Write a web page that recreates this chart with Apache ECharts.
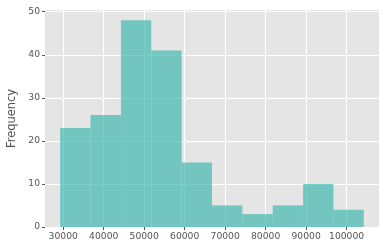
<!DOCTYPE html>
<html><head><meta charset="utf-8">
<script src="https://cdn.jsdelivr.net/npm/echarts@6/dist/echarts.min.js"></script>
<style>html,body{margin:0;padding:0;background:#fff}#c{width:385px;height:251px}</style>
</head><body><div id="c"></div>
<script>
const binEdges = [29250, 36750, 44250, 51750, 59250, 66750, 74250, 81750, 89250, 96750, 104250];
const counts = [23, 26, 48, 41, 15, 5, 3, 5, 10, 4];
const xTicks = [30000, 40000, 50000, 60000, 70000, 80000, 90000, 100000];
const yTicks = [0, 10, 20, 30, 40, 50];

const data = counts.map((c, i) => [binEdges[i], binEdges[i + 1], c]);
const chart = echarts.init(document.getElementById('c'), null, {renderer: 'canvas'});
const font = 'DejaVu Sans';
chart.setOption({
  animation: false,
  backgroundColor: '#fff',
  grid: {left: 45, right: 6, top: 10, bottom: 24, show: true, backgroundColor: '#e5e5e5', borderWidth: 0,
         containLabel: false, outerBoundsMode: 'none'},
  xAxis: {
    type: 'value', min: 25500, max: 108000, interval: 10000,
    axisLine: {show: false},
    axisTick: {show: true, length: 3, lineStyle: {color: '#555'}, customValues: xTicks},
    axisLabel: {color: '#555', fontFamily: font, fontSize: 9.2, margin: 5, customValues: xTicks,
                formatter: v => String(v)},
    splitLine: {show: true, lineStyle: {color: '#fff', width: 1}}
  },
  yAxis: {
    type: 'value', min: 0, max: 50.4,
    name: 'Frequency', nameLocation: 'middle', nameGap: 25,
    nameTextStyle: {color: '#555', fontFamily: font, fontSize: 11.4},
    axisLine: {show: false},
    axisTick: {show: true, length: 3, lineStyle: {color: '#555'}, customValues: yTicks},
    axisLabel: {color: '#555', fontFamily: font, fontSize: 9.2, margin: 5, customValues: yTicks,
                formatter: v => String(v)},
    splitLine: {show: true, lineStyle: {color: '#fff', width: 1}}
  },
  series: [{
    type: 'custom',
    data: data,
    renderItem: function (params, api) {
      const p0 = api.coord([api.value(0), api.value(2)]);
      const p1 = api.coord([api.value(1), 0]);
      return {
        type: 'rect',
        shape: {x: p0[0], y: p0[1], width: p1[0] - p0[0], height: p1[1] - p0[1]},
        style: {fill: 'rgba(65,185,175,0.7)'}
      };
    }
  }]
});
</script></body></html>
